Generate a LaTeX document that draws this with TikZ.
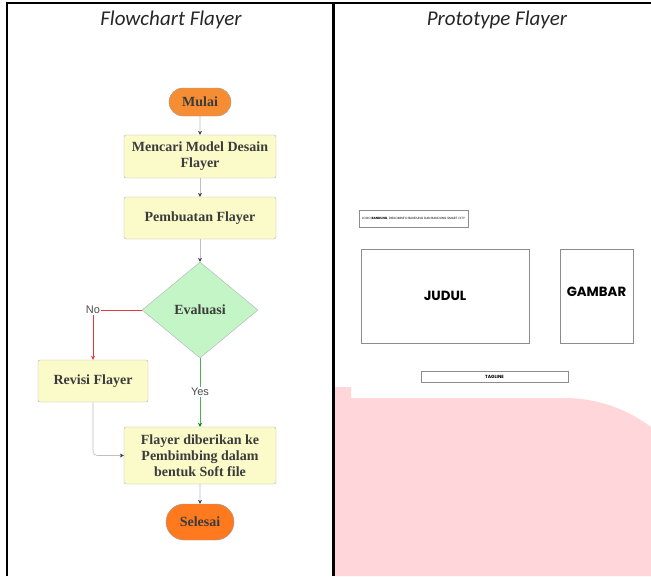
\documentclass[tikz,border=0pt]{standalone}
\usepackage{fontspec}
\setmainfont{Liberation Serif}
\newfontfamily\titlefont{Carlito}
\newfontfamily\labelfont{Liberation Sans}
\newfontfamily\protofont{Poppins}
\usetikzlibrary{shapes.geometric,shapes.misc,arrows.meta}
\definecolor{startorange}{HTML}{F78D33}
\definecolor{endorange}{HTML}{FF7A1E}
\definecolor{stepyellow}{HTML}{FBFAC9}
\definecolor{decgreen}{HTML}{C3F5C7}
\definecolor{nored}{HTML}{E53935}
\definecolor{yesgreen}{HTML}{4CAF50}
\definecolor{pinkbg}{HTML}{FFD6DA}
\definecolor{textgray}{HTML}{3B3B3B}
\def\colx{200}

\begin{document}
\begin{tikzpicture}[x=1pt,y=-1pt,font=\bfseries\fontsize{14}{16}\selectfont,text=textgray]
  \tikzstyle{terminal}=[rounded rectangle,draw=black!40,inner sep=0pt]
  \tikzstyle{process}=[rectangle,rounded corners=2pt,draw=black!30,fill=stepyellow,minimum width=152pt,align=center,inner sep=2pt]
  \tikzstyle{decision}=[diamond,draw=black!30,fill=decgreen,minimum width=116pt,minimum height=96pt,inner sep=0pt]
  \tikzstyle{flow}=[draw=black!25,line width=0.6pt,-{Stealth[length=4pt,width=4pt,color=black!75]}]
  \tikzstyle{branchlabel}=[font=\labelfont\fontsize{11}{13}\selectfont,text=black!70,fill=white,inner sep=1pt]
  \tikzstyle{protobox}=[rectangle,draw=black!45,line width=0.8pt,inner sep=0pt]
  \tikzstyle{tabletitle}=[font=\titlefont\itshape\fontsize{21}{24}\selectfont,text=black!85]

  \useasboundingbox (0,0) rectangle (651,576);

  % background of the prototype
  \fill[pinkbg] (335,387) -- (351,387) -- (351,398) -- (563,398)
    .. controls (600,398) and (628,410) .. (651,427) -- (651,576) -- (335,576) -- cycle;

  % table lines
  \draw[line width=2pt] (7,576) -- (7,3) -- (651,3);
  \draw[line width=3pt] (333,3) -- (333,576);

  \node[tabletitle] (t-flow) at (171,20) {Flowchart Flayer};
  \node[tabletitle] (t-proto) at (497,20) {Prototype Flayer};

  % flowchart
  \node[terminal,fill=startorange,minimum width=62pt,minimum height=28pt] (mulai) at (\colx,102) {Mulai};
  \node[process,minimum height=43pt] (cari) at (\colx,156.5) {Mencari Model Desain\\Flayer};
  \node[process,minimum height=42pt] (buat) at (\colx,218) {Pembuatan Flayer};
  \node[decision] (eval) at (\colx,310) {Evaluasi};
  \node[process,minimum width=110pt,minimum height=42pt] (revisi) at (93,381) {Revisi Flayer};
  \node[process,minimum height=57pt] (kirim) at (\colx,455.5) {Flayer diberikan ke\\Pembimbing dalam\\bentuk Soft file};
  \node[terminal,fill=endorange,minimum width=68pt,minimum height=36pt] (selesai) at (\colx,522) {Selesai};

  \node[branchlabel] (no) at (93,310) {No};
  \node[branchlabel] (yes) at (\colx,392) {Yes};

  \path[flow] (mulai) -- (cari);
  \path[flow] (cari) -- (buat);
  \path[flow] (buat) -- (eval);
  \draw[nored,line width=0.8pt] (eval.west) -- (no.east);
  \draw[nored,line width=0.8pt,-{Stealth[length=4pt,width=4pt]}] (no.south) -- (revisi.north);
  \draw[yesgreen,line width=1pt] (eval.south) -- (yes.north);
  \draw[yesgreen,line width=1pt,-{Stealth[length=4pt,width=4pt,color=green!50!black]}] (yes.south) -- (kirim.north);
  \path[flow,rounded corners=4pt] (revisi.south) |- (kirim.west);
  \path[flow] (kirim) -- (selesai);

  % prototype
  \node[protobox,minimum width=109pt,minimum height=17pt,font=\protofont\fontsize{3.1}{4}\selectfont,text=black] (logo) at (413.5,218.5) {LOGO \textbf{BANDUNG}, DISKOMINFO BANDUNG DAN BANDUNG SMART CITY};
  \node[protobox,minimum width=168pt,minimum height=94pt,font=\protofont\bfseries\fontsize{13.3}{15}\selectfont,text=black] (judul) at (445,296) {JUDUL};
  \node[protobox,minimum width=73pt,minimum height=94pt] (gambar) at (596.5,296) {};
  \node[font=\protofont\bfseries\fontsize{13.3}{15}\selectfont,text=black] (gambar-t) at (596.5,292) {GAMBAR};
  \node[protobox,minimum width=147pt,minimum height=11pt,fill=white,font=\protofont\bfseries\fontsize{4.5}{5}\selectfont,text=black] (tagline) at (494.5,376.5) {TAGLINE};
\end{tikzpicture}
\end{document}
